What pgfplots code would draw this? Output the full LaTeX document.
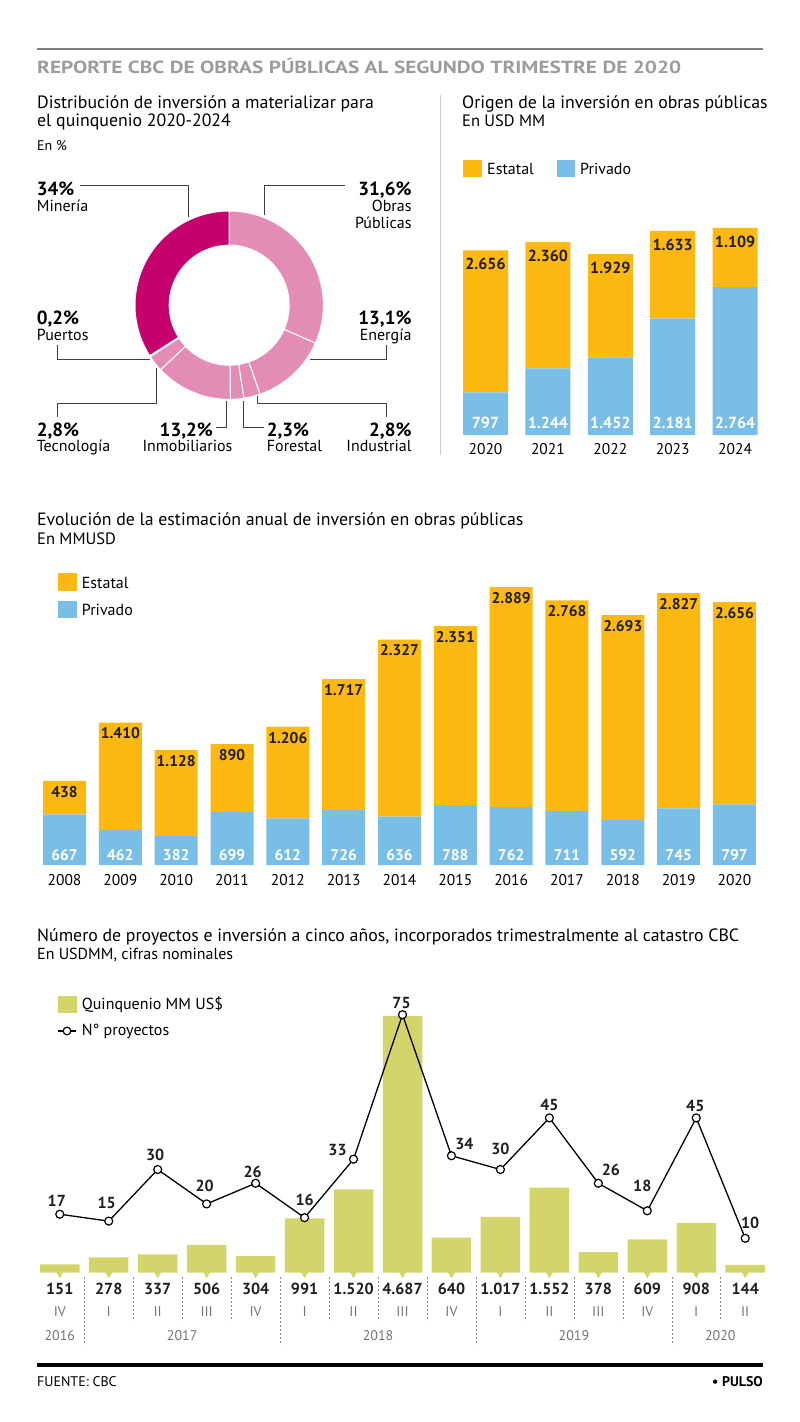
\documentclass[border=0pt]{standalone}
\usepackage{fontspec}
\setmainfont{PT Sans}
\newfontfamily\titfont[FakeStretch=1.22]{PT Sans}
\usepackage{pgfplots}
\usepackage{pgfplotstable}
\pgfplotsset{compat=1.18}

\definecolor{estatal}{HTML}{FDB912}
\definecolor{privado}{HTML}{79BEE6}
\definecolor{quinq}{HTML}{D3D56B}
\definecolor{pinkL}{HTML}{E38CB5}
\definecolor{mag}{HTML}{C6006C}
\definecolor{titgray}{HTML}{9C9C9C}
\definecolor{ink}{HTML}{1E1E1E}

\newcommand\fs[1]{\fontsize{#1}{#1}\selectfont}
\pgfkeys{/pgf/number format/.cd,1000 sep={.},assume math mode=true}

% origen de la inversion (USD MM)
\pgfplotstableread{
x yr   priv est
0 2020 797  2656
1 2021 1244 2360
2 2022 1452 1929
3 2023 2181 1633
4 2024 2764 1109
}\origen

% evolucion anual (MMUSD)
\pgfplotstableread{
x  yr   priv est
0  2008 667  438
1  2009 462  1410
2  2010 382  1128
3  2011 699  890
4  2012 612  1206
5  2013 726  1717
6  2014 636  2327
7  2015 788  2351
8  2016 762  2889
9  2017 711  2768
10 2018 592  2693
11 2019 745  2827
12 2020 797  2656
}\evol

% catastro CBC por trimestre
\pgfplotstableread{
x  q   inv  proj z dx  dy
0  IV  151  17   0 -3  7.6
1  I   278  15   0 -2  11.5
2  II  337  30   0 -2.5 8
3  III 506  20   0 -2  12
4  IV  304  26   0 -3  5
5  I   991  16   0 0   11
6  II  1520 33   0 -16 3
7  III 4687 75   0 -1  5
8  IV  640  34   0 13  5.7
9  I   1017 30   0 0   13.7
10 II  1552 45   0 0   6.2
11 III 378  26   0 12.5 7
12 IV  609  18   0 -5  18
13 I   908  45   0 -1  6
14 II  144  10   0 5   8.5
}\cbc

\pgfplotsset{
  barchart/.style={scale only axis, anchor=south west, clip=false,
    enlargelimits=false, ymin=0, axis line style={draw=none},
    ytick=\empty, xtick=data, major tick length=0pt,
    xticklabel style={anchor=center}},
  val/.style={nodes near coords, point meta=explicit,
    every node near coord/.append style={inner sep=0pt, font=\bfseries\fs{16}}},
}

\begin{document}
\begin{tikzpicture}
\begin{scope}[x=1pt,y=-1pt]
\useasboundingbox (0,0) rectangle (800,1422);
\draw[line width=2pt, black!50] (37,49) -- (763,49);
\node[anchor=base west,inner sep=0,text=titgray,font=\titfont\bfseries\fs{17.5}] at (37,73.3) {REPORTE CBC DE OBRAS PÚBLICAS AL SEGUNDO TRIMESTRE DE 2020};

% --- distribucion
\node[anchor=base west,inner sep=0,font=\fs{17.8}] at (37,108.3) {Distribución de inversión a materializar para};
\node[anchor=base west,inner sep=0,font=\fs{17.8}] at (37,126.7) {el quinquenio 2020-2024};
\node[anchor=base west,inner sep=0,font=\fs{14}] at (37,150) {En \%};
\draw[black!20, line width=0.8pt] (440,95) -- (440,455);

\begin{scope}[every node/.style={inner sep=0}]
\node[anchor=base west,font=\bfseries\fs{19}] at (36.7,195) {34\%};
\node[anchor=base west,font=\fs{16}] at (36.7,211.7) {Minería};
\node[anchor=base east,font=\bfseries\fs{19}] at (411.7,195) {31,6\%};
\node[anchor=base east,font=\fs{16}] at (411.7,211.7) {Obras};
\node[anchor=base east,font=\fs{16}] at (411.7,228.3) {Públicas};
\node[anchor=base west,font=\bfseries\fs{19}] at (36.7,324) {0,2\%};
\node[anchor=base west,font=\fs{16}] at (36.7,340.7) {Puertos};
\node[anchor=base east,font=\bfseries\fs{19}] at (411.7,324) {13,1\%};
\node[anchor=base east,font=\fs{16}] at (411.7,340.7) {Energía};
\node[anchor=base west,font=\bfseries\fs{19}] at (36.7,436.7) {2,8\%};
\node[anchor=base west,font=\fs{16}] at (36.7,451) {Tecnología};
\node[anchor=base east,font=\bfseries\fs{19}] at (213,436.7) {13,2\%};
\node[anchor=base,font=\fs{16}] at (187.5,451) {Inmobiliarios};
\node[anchor=base west,font=\bfseries\fs{19}] at (266.7,436.7) {2,3\%};
\node[anchor=base west,font=\fs{16}] at (266.7,451) {Forestal};
\node[anchor=base east,font=\bfseries\fs{19}] at (411.7,436.7) {2,8\%};
\node[anchor=base east,font=\fs{16}] at (411.7,451) {Industrial};
\end{scope}
\begin{scope}[black!75, line width=0.9pt]
\draw (80,185.7) -- (188.3,185.7) -- (188.3,216.7);
\draw (345,185.7) -- (264.3,185.7) -- (264.3,215);
\draw (57,345) -- (57,359) -- (150,359);
\draw (386.7,345) -- (386.7,359) -- (310,359);
\draw (57,416.7) -- (57,403.3) -- (156.7,403.3) -- (156.7,368.3);
\draw (216,427.3) -- (226.7,427.3) -- (226.7,400.7);
\draw (243.3,400.7) -- (243.3,427.3) -- (264,427.3);
\draw (386.7,416.7) -- (386.7,403.3) -- (257.3,403.3) -- (257.3,396);
\end{scope}

% --- origen
\node[anchor=base west,inner sep=0,font=\fs{17.8}] at (462,108.3) {Origen de la inversión en obras públicas};
\node[anchor=base west,inner sep=0,font=\fs{16.5}] at (462,126.7) {En USD MM};
\fill[estatal] (463,160) rectangle (482,177);
\node[anchor=base west,inner sep=0,font=\fs{16}] at (487,174) {Estatal};
\fill[privado] (557,160) rectangle (575,177);
\node[anchor=base west,inner sep=0,font=\fs{16}] at (580,174) {Privado};

% --- evolucion
\node[anchor=base west,inner sep=0,font=\fs{17.8}] at (37,525.7) {Evolución de la estimación anual de inversión en obras públicas};
\node[anchor=base west,inner sep=0,font=\fs{16.5}] at (37,544) {En MMUSD};
\fill[estatal] (58,573) rectangle (77,591);
\node[anchor=base west,inner sep=0,font=\fs{16}] at (81.7,588.3) {Estatal};
\fill[privado] (58,601) rectangle (77,618);
\node[anchor=base west,inner sep=0,font=\fs{16}] at (81.7,615) {Privado};

% --- catastro
\node[anchor=base west,inner sep=0,font=\fs{17.8}] at (37,941.7) {Número de proyectos e inversión a cinco años, incorporados trimestralmente al catastro CBC};
\node[anchor=base west,inner sep=0,font=\fs{16}] at (37,959.3) {En USDMM, cifras nominales};
\fill[quinq] (58,996) rectangle (77,1013);
\node[anchor=base west,inner sep=0,font=\fs{16}] at (81.7,1009.3) {Quinquenio MM US\$};
\draw[line width=1.3pt] (58,1031) -- (76,1031);
\filldraw[fill=white, draw=black, line width=1.2pt] (67,1031) circle (3.8);
\node[anchor=base west,inner sep=0,font=\fs{16}] at (81.7,1035) {N° proyectos};

\foreach \i in {0,...,13}{
  \pgfmathsetmacro\xx{59.8+48.96*(\i+0.5)}
  \draw[black!45, dash pattern=on 2pt off 2pt, line width=0.6pt] (\xx,1277) -- (\xx,1321);
}
\foreach \i in {0,4,8,12}{
  \pgfmathsetmacro\xx{59.8+48.96*(\i+0.5)}
  \draw[black!45, dash pattern=on 2pt off 2pt, line width=0.6pt] (\xx,1277) -- (\xx,1345);
}
\begin{scope}[every node/.style={anchor=center, text=black!55, font=\fs{14}}]
\node at (59.8,1335.3) {2016};
\node at (182.2,1335.3) {2017};
\node at (378.1,1335.3) {2018};
\node at (573.9,1335.3) {2019};
\node at (720.3,1335.3) {2020};
\end{scope}

\draw[line width=4pt] (37,1364.7) -- (763,1364.7);
\node[anchor=base west,inner sep=0,font=\fs{14}] at (37,1386.7) {FUENTE: CBC};
\node[anchor=base east,inner sep=0,font=\bfseries\fs{14}] at (763,1386.7) {• PULSO};
\end{scope}

% donut
\begin{axis}[at={(229.2pt,-305.2pt)}, anchor=center, scale only axis,
  width=188.4pt, height=188.4pt, xmin=-1, xmax=1, ymin=-1, ymax=1,
  hide axis, clip=false]
\pgfplotsextra{
  \begin{scope}[shift={(axis cs:0,0)}]
  \gdef\angS{90}
  \foreach \p/\c in {31.6/pinkL, 13.1/pinkL, 2.8/pinkL, 2.3/pinkL, 13.2/pinkL, 2.8/pinkL, 0.2/pinkL, 34/mag}{
    \pgfmathsetmacro\angE{\angS-3.6*\p}
    \filldraw[fill=\c, draw=white, line width=1pt] (\angS:94.2pt)
      arc[start angle=\angS, end angle=\angE, radius=94.2pt] -- (\angE:60pt)
      arc[start angle=\angE, end angle=\angS, radius=60pt] -- cycle;
    \global\let\angS\angE
  }
  \end{scope}
}
\end{axis}

% origen bars (labels sit at segment centres, shifted to bar ends)
\begin{axis}[barchart, at={(454.3pt,-435pt)}, width=312pt, height=214pt,
  ybar stacked, bar width=45pt, xmin=-0.5, xmax=4.5, ymax=4000,
  xticklabels from table={\origen}{yr},
  xticklabel style={yshift=-13.7pt, font=\fs{15.5}}]
\addplot[draw=none, fill=privado, val,
  visualization depends on={\thisrow{priv} \as \v},
  every node near coord/.append style={text=white, yshift={11.7pt-\v*0.02675pt}}]
  table[x=x, y=priv, meta=priv] {\origen};
\addplot[draw=none, fill=estatal, val,
  visualization depends on={\thisrow{est} \as \v},
  every node near coord/.append style={text=ink, yshift={\v*0.02675pt-14pt}}]
  table[x=x, y=est, meta=est] {\origen};
\end{axis}

% evolucion bars
\begin{axis}[barchart, at={(36.6pt,-865pt)}, width=725.8pt, height=304.4pt,
  ybar stacked, bar width=43pt, xmin=-0.5, xmax=12.5, ymax=4000,
  xticklabels from table={\evol}{yr},
  xticklabel style={yshift=-15.5pt, font=\fs{15.5}}]
\addplot[draw=none, fill=privado, val,
  visualization depends on={\thisrow{priv} \as \v},
  every node near coord/.append style={text=white, font=\bfseries\fs{15.5}, yshift={10pt-\v*0.03805pt}}]
  table[x=x, y=priv, meta=priv] {\evol};
\addplot[draw=none, fill=estatal, val,
  visualization depends on={\thisrow{est} \as \v},
  every node near coord/.append style={text=ink, font=\bfseries\fs{15.5}, yshift={\v*0.03805pt-11pt}}]
  table[x=x, y=est, meta=est] {\evol};
\end{axis}

% catastro bars
\begin{axis}[barchart, at={(35.3pt,-1272.7pt)}, width=734.4pt, height=274pt,
  xmin=-0.5, xmax=14.5, ymax=5000,
  xticklabels from table={\cbc}{q},
  xticklabel style={yshift=-39.3pt, text=black!55, font=\fs{14}}]
\addplot[ybar, bar shift=0pt, bar width=39.5pt, draw=none, fill=quinq]
  table[x=x, y=inv] {\cbc};
\addplot[quinq, only marks, mark=triangle*, mark size=5pt,
  mark options={rotate=180, fill=quinq, draw=quinq}] table[x=x, y=z] {\cbc};
\addplot[draw=none, val, every node near coord/.append style={text=ink, yshift=-22.3pt}]
  table[x=x, y=z, meta=inv] {\cbc};
\end{axis}

% proyectos line
\begin{axis}[scale only axis, anchor=south west, at={(35.3pt,-1272.7pt)},
  width=734.4pt, height=274pt, xmin=-0.5, xmax=14.5, ymin=0, ymax=79.65,
  hide axis, clip=false]
\addplot[black, line width=1.3pt, mark=*, mark size=4pt,
  mark options={fill=white, draw=black, line width=1.2pt}, val,
  visualization depends on={\thisrow{dx} \as \dx},
  visualization depends on={\thisrow{dy} \as \dy},
  every node near coord/.append style={text=ink, xshift=\dx pt, yshift=\dy pt}]
  table[x=x, y=proj, meta=proj] {\cbc};
\end{axis}
\end{tikzpicture}
\end{document}
